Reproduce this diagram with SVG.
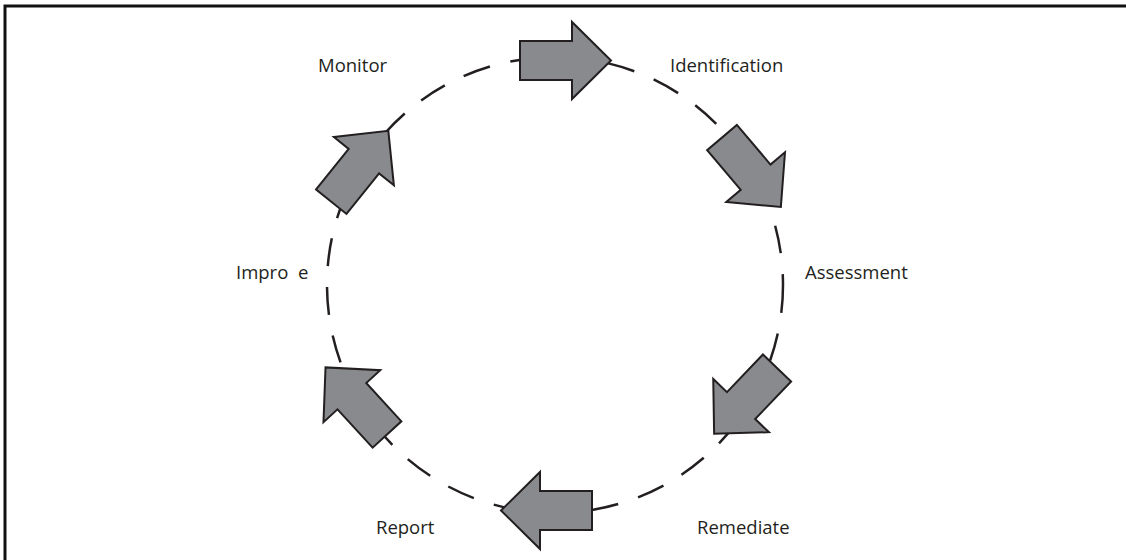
<svg xmlns="http://www.w3.org/2000/svg" xmlns:xlink="http://www.w3.org/1999/xlink" width="1126" height="560" viewBox="0 0 1126 560">
  <style>
    .frame { stroke: #111; stroke-width: 3; fill: none; }
    .ring { fill: none; stroke: #231f20; stroke-width: 2.5; stroke-dasharray: 28 21; }
    .arrow { fill: #898a8d; stroke: #231f20; stroke-width: 2; stroke-linejoin: miter; }
    .label { font-family: "Open Sans", "Liberation Sans", sans-serif; font-size: 18.5px; fill: #231f20; }
  </style>
  <defs>
    <!-- block arrow pointing along +x, tail centred on the origin -->
    <polygon id="blockArrow" points="0,-19.5 52,-19.5 52,-38.5 91,0 52,38.5 52,19.5 0,19.5"/>
  </defs>

  <rect width="1126" height="560" fill="#fff"/>
  <!-- page frame: top and left rules only -->
  <path class="frame" d="M5,560 V6 H1126"/>

  <g id="connectors">
    <circle class="ring" cx="555" cy="285" r="228"/>
  </g>

  <g id="arrow-top"><use xlink:href="#blockArrow" class="arrow" transform="translate(520,60.5)"/></g>
  <g id="arrow-upper-right"><use xlink:href="#blockArrow" class="arrow" transform="translate(722,137.5) rotate(49.7)"/></g>
  <g id="arrow-lower-right"><use xlink:href="#blockArrow" class="arrow" transform="translate(777,368) rotate(133.7)"/></g>
  <g id="arrow-bottom"><use xlink:href="#blockArrow" class="arrow" transform="translate(592,510.5) rotate(180)"/></g>
  <g id="arrow-lower-left"><use xlink:href="#blockArrow" class="arrow" transform="translate(387,434.5) rotate(227.5)"/></g>
  <g id="arrow-upper-left"><use xlink:href="#blockArrow" class="arrow" transform="translate(331.3,201.7) rotate(-51.2)"/></g>

  <g id="node-monitor"><text class="label" x="318" y="72">Monitor</text></g>
  <g id="node-identification"><text class="label" x="670" y="72">Identification</text></g>
  <g id="node-assessment"><text class="label" x="805" y="279">Assessment</text></g>
  <g id="node-remediate"><text class="label" x="697" y="534">Remediate</text></g>
  <g id="node-report"><text class="label" x="376" y="534">Report</text></g>
  <g id="node-improve"><text class="label" x="236" y="279" xml:space="preserve">Impro  e</text></g>
</svg>
